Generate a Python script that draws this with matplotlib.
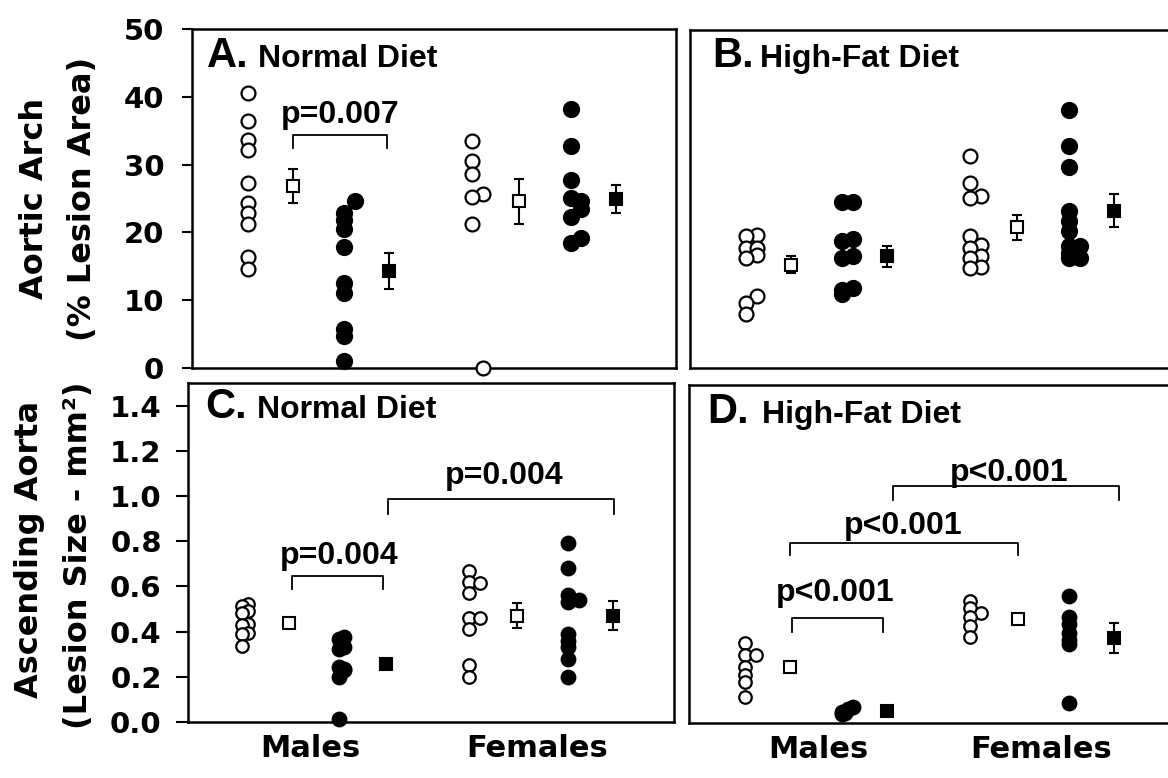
import matplotlib.pyplot as plt
import numpy as np

# column order in each panel:
# male control, its mean, male knockout, its mean, female control, its mean, female knockout, its mean
xpos = [1.25, 2.25, 3.4, 4.4, 6.25, 7.3, 8.45, 9.45]
JIT = 0.24

# A. aortic arch, normal diet (% lesion area)
a_m_ctrl = [40.5, 36.5, 33.7, 32.2, 27.3, 24.4, 22.9, 21.3, 16.3, 14.6]
a_m_ko = [24.6, 22.8, 21.8, 20.5, 17.8, 12.6, 11.1, 5.7, 4.7, 1.0]
a_f_ctrl = [33.5, 30.6, 28.6, 25.7, 25.2, 21.3, 0.0]
a_f_ko = [38.2, 32.7, 27.8, 25.1, 24.7, 23.4, 22.2, 19.2, 18.5]
a_mean = [26.8, 14.3, 24.6, 24.9]
a_sem = [2.5, 2.6, 3.3, 2.1]

# B. aortic arch, high-fat diet
b_m_ctrl = [19.7, 19.5, 17.8, 17.8, 16.7, 16.2, 10.6, 9.6, 8.0]
b_m_ko = [24.6, 24.6, 19.1, 18.8, 16.5, 16.3, 11.9, 11.5, 11.0]
b_f_ctrl = [31.4, 27.3, 25.5, 25.1, 19.5, 18.2, 17.7, 16.5, 16.2, 15.0, 14.8]
b_f_ko = [38.2, 32.9, 29.8, 23.2, 21.7, 20.2, 18.0, 18.0, 17.0, 16.3, 16.3]
b_mean = [15.3, 16.5, 20.8, 23.3]
b_sem = [1.2, 1.6, 1.8, 2.4]

# C. ascending aorta, normal diet (lesion size, mm2)
c_m_ctrl = [0.522, 0.515, 0.489, 0.483, 0.434, 0.43, 0.394, 0.39, 0.335]
c_m_ko = [0.375, 0.368, 0.33, 0.324, 0.243, 0.235, 0.228, 0.20, 0.015]
c_f_ctrl = [0.67, 0.62, 0.615, 0.57, 0.46, 0.46, 0.41, 0.25, 0.20]
c_f_ko = [0.79, 0.68, 0.56, 0.54, 0.53, 0.39, 0.36, 0.33, 0.28, 0.20]
c_mean = [0.44, 0.257, 0.47, 0.47]
c_sem = [0.01, 0.02, 0.055, 0.065]

# D. ascending aorta, high-fat diet
d_m_ctrl = [0.355, 0.30, 0.30, 0.25, 0.215, 0.18, 0.115]
d_m_ko = [0.07, 0.06, 0.05, 0.045, 0.04]
d_f_ctrl = [0.54, 0.51, 0.49, 0.47, 0.43, 0.38]
d_f_ko = [0.565, 0.47, 0.44, 0.40, 0.37, 0.35, 0.09]
d_mean = [0.25, 0.055, 0.46, 0.377]
d_sem = [0.02, 0.005, 0.02, 0.068]

# sideways shift of overlapping dots (in units of JIT)
a_shift = [[0] * 10, [1] + [0] * 9, [0, 0, 0, 1, 0, 0, 1], [0, 0, 0, 0, 1, 1, 0, 1, 0]]
b_shift = [[1, 0, 0, 1, 1, 0, 1, 0, 0], [0, 1, 1, 0, 1, 0, 1, 0, 0],
           [0, 0, 1, 0, 0, 1, 0, 1, 0, 1, 0], [0, 0, 0, 0, 0, 0, 0, 1, 0, 0, 1]]
c_shift = [[0.3, -0.2, 0.3, -0.2, 0.3, -0.2, 0.3, -0.2, -0.2], [0.3, -0.2, 0.3, -0.2, -0.2, 0.3, 0.3, -0.2, -0.2],
           [0, 0, 1, 0, 0, 1, 0, 0, 0], [0, 0, 0, 1, 0, 0, 0, 0, 0, 0]]
d_shift = [[0, 0, 1, 0, 0, 0, 0], [1, 0.6, 0, 0.3, 0], [0, 0, 1, 0, 0, 0], [0] * 7]

# significance brackets: x0, x1, bar y, leg end y, label, label x, label baseline y
a_brackets = [(2.25, 4.35, 34.4, 32.5, 'p=0.007', 3.3, 36.2)]
c_brackets = [(2.3, 4.33, 0.645, 0.59, 'p=0.004', 3.35, 0.70),
              (4.44, 9.46, 0.985, 0.92, 'p=0.004', 7.03, 1.052)]
d_brackets = [(2.28, 4.31, 0.465, 0.405, 'p<0.001', 3.24, 0.54),
              (2.25, 7.3, 0.80, 0.745, 'p<0.001', 4.75, 0.84),
              (4.53, 9.55, 1.05, 0.99, 'p<0.001', 7.12, 1.074)]

ARIAL = 'Liberation Sans'


def draw_panel(ax, groups, shifts, means, sems, ms, ylim):
    for i, (vals, sh) in enumerate(zip(groups, shifts)):
        face = 'black' if i % 2 else 'white'
        xs = xpos[2 * i] + JIT * np.array(sh, dtype=float)
        ax.plot(xs, vals, 'o', ms=ms + (0.8 if i % 2 else 0), mfc=face, mec='black',
                mew=1.6, ls='none', clip_on=False, zorder=3)
        ax.errorbar(xpos[2 * i + 1], means[i], yerr=sems[i], fmt='s', ms=8, mfc=face,
                    mec='black', mew=1.5, ecolor='black', elinewidth=1.5,
                    capsize=3.5, capthick=1.5, zorder=3)
    ax.set_xlim(0, 10.8)
    ax.set_ylim(*ylim)
    ax.set_xticks([])
    for s in ax.spines.values():
        s.set_linewidth(1.8)


def draw_brackets(ax, brackets):
    for x0, x1, y, yl, lab, tx, ty in brackets:
        ax.plot([x0, x0, x1, x1], [yl, y, y, yl], color='black', lw=1.3)
        ax.text(tx, ty, lab, ha='center', va='baseline', fontsize=23,
                fontweight='bold', family=ARIAL)


def panel_title(ax, letter, name, lx, nx, y):
    ax.text(lx, y, letter, transform=ax.transAxes, fontsize=30, fontweight='bold',
            family=ARIAL, va='baseline')
    ax.text(nx, y, name, transform=ax.transAxes, fontsize=23, fontweight='bold',
            family=ARIAL, va='baseline')


fig = plt.figure(figsize=(11.68, 7.78), dpi=100)
axA = fig.add_axes([0.1644, 0.527, 0.4144, 0.4357])
axB = fig.add_axes([0.5908, 0.527, 0.4144, 0.4344])
axC = fig.add_axes([0.161, 0.072, 0.4161, 0.4357])
axD = fig.add_axes([0.5899, 0.0707, 0.4161, 0.4344])

draw_panel(axA, [a_m_ctrl, a_m_ko, a_f_ctrl, a_f_ko], a_shift, a_mean, a_sem, 10, (0, 50))
draw_panel(axB, [b_m_ctrl, b_m_ko, b_f_ctrl, b_f_ko], b_shift, b_mean, b_sem, 10, (0, 50))
draw_panel(axC, [c_m_ctrl, c_m_ko, c_f_ctrl, c_f_ko], c_shift, c_mean, c_sem, 9, (0, 1.5))
draw_panel(axD, [d_m_ctrl, d_m_ko, d_f_ctrl, d_f_ko], d_shift, d_mean, d_sem, 9, (0, 1.5))

draw_brackets(axA, a_brackets)
draw_brackets(axC, c_brackets)
draw_brackets(axD, d_brackets)

axA.set_yticks(np.arange(0, 51, 10))
axC.set_yticks(np.arange(0, 1.41, 0.2))
axC.set_yticklabels(['%.1f' % v for v in np.arange(0, 1.41, 0.2)])
axA.tick_params(axis='y', direction='out', length=7, width=1.5, pad=13, labelsize=21)
axC.tick_params(axis='y', direction='out', length=9, width=1.5, pad=10, labelsize=21)
for ax in (axA, axC):
    for lab in ax.get_yticklabels():
        lab.set_fontweight('bold')
for ax in (axB, axD):
    ax.set_yticks([])

panel_title(axA, 'A.', 'Normal Diet', 0.031, 0.136, 0.888)
panel_title(axB, 'B.', 'High-Fat Diet', 0.045, 0.145, 0.89)
panel_title(axC, 'C.', 'Normal Diet', 0.035, 0.142, 0.897)
panel_title(axD, 'D.', 'High-Fat Diet', 0.037, 0.151, 0.888)

for ax, xm, xf in ((axC, 2.72, 7.75), (axD, 2.88, 7.83)):
    tr = ax.get_xaxis_transform()
    ax.text(xm, -0.103, 'Males', transform=tr, ha='center', va='baseline',
            fontsize=22, fontweight='bold')
    ax.text(xf, -0.103, 'Females', transform=tr, ha='center', va='baseline',
            fontsize=22, fontweight='bold')

W, H = 1168, 778
lab_kw = dict(rotation=90, ha='center', va='center', fontsize=23, fontweight='bold')
fig.text(35 / W, 1 - 198 / H, 'Aortic Arch', **lab_kw)
fig.text(83 / W, 1 - 199 / H, '(% Lesion Area)', **lab_kw)
fig.text(30 / W, 1 - 549 / H, 'Ascending Aorta', **lab_kw)
fig.text(79 / W, 1 - 555 / H, '(Lesion Size - mm²)', **lab_kw)

fig.savefig('out.png', dpi=100)
